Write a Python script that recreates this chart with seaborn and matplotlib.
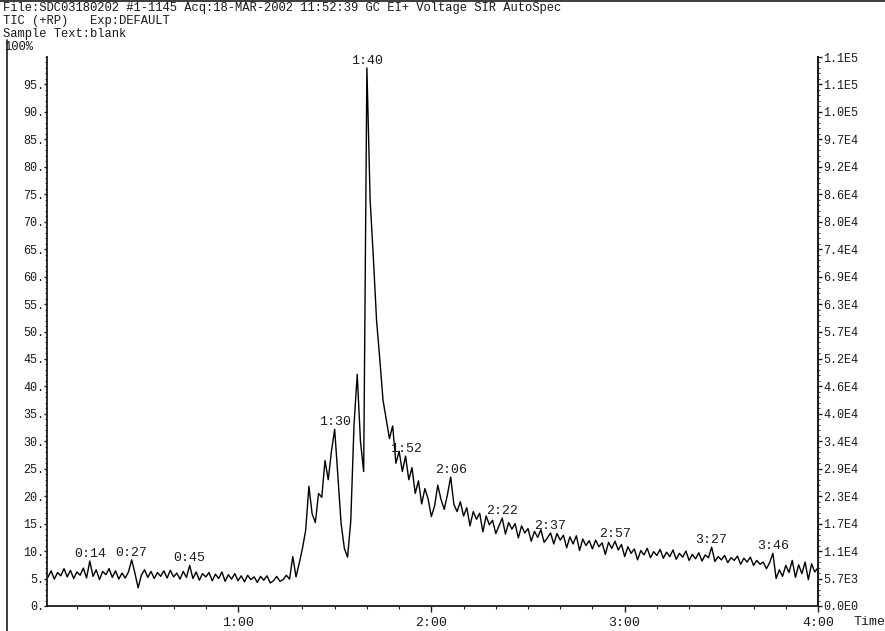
import numpy as np
import pandas as pd
import seaborn as sns
import matplotlib.pyplot as plt
from matplotlib.lines import Line2D
from matplotlib.ticker import MultipleLocator

# scan times in seconds (one scan per second)
seconds = np.arange(1, 241)

# relative intensity (%), second by second
intensity = [
    5.2, 6.4, 4.9, 6.1, 5.5, 6.8, 5.3, 6.5, 5.0, 6.2,
    5.6, 6.9, 5.1, 8.2, 5.4, 6.6, 4.8, 6.3, 5.7, 6.8,
    5.2, 6.4, 4.9, 6.0, 5.1, 6.2, 8.4, 6.0, 3.3, 5.6,
    6.6, 5.2, 6.3, 5.0, 6.1, 5.4, 6.4, 5.1, 6.5, 5.3,
    6.0, 4.9, 6.3, 5.2, 7.4, 5.0, 6.2, 4.7, 5.9, 5.3,
    6.1, 4.6, 5.8, 5.0, 6.2, 4.5, 5.7, 4.9, 5.9, 4.6,
    5.5, 4.4, 5.6, 4.8, 5.3, 4.3, 5.4, 4.7, 5.5, 4.2,
    4.6, 5.4, 4.5, 4.8, 5.6, 4.9, 9.0, 5.3, 7.8, 10.5,
    13.8, 21.8, 16.8, 15.2, 20.5, 19.8, 26.5, 23.0, 28.2, 32.2,
    23.5, 15.0, 10.5, 8.9, 15.5, 33.0, 42.2, 30.0, 24.5, 98.0,
    74.0, 63.5, 52.0, 45.0, 37.5, 34.0, 30.5, 32.8, 26.0, 28.2,
    24.5, 27.3, 23.0, 25.2, 20.5, 22.8, 18.6, 21.4, 19.5, 16.3,
    18.2, 22.0, 19.4, 17.6, 20.3, 23.5, 18.5, 17.2, 19.0, 16.4,
    17.9, 14.6, 17.2, 15.8, 16.9, 13.5, 16.4, 14.8, 15.6, 13.2,
    14.6, 16.0, 13.1, 15.2, 14.0, 15.0, 12.4, 14.6, 13.3, 14.1,
    11.8, 13.6, 12.5, 13.9, 11.6, 12.4, 13.3, 11.3, 13.2, 12.0,
    12.9, 10.6, 12.6, 11.3, 12.8, 10.1, 12.2, 11.0, 11.9, 10.4,
    12.0, 10.8, 11.5, 9.4, 11.6, 10.5, 11.8, 10.2, 11.2, 9.0,
    10.8, 9.6, 10.4, 8.4, 10.1, 9.3, 10.5, 8.8, 9.9, 9.2,
    10.3, 8.7, 9.8, 9.0, 10.2, 8.5, 9.6, 8.9, 10.0, 8.3,
    9.4, 8.6, 9.7, 8.2, 9.3, 8.8, 10.7, 8.1, 9.0, 8.4,
    9.2, 7.9, 8.8, 8.3, 9.1, 7.6, 8.7, 8.0, 8.9, 7.4,
    8.3, 7.6, 8.0, 6.8, 7.9, 9.6, 5.0, 6.6, 5.4, 7.4,
    6.1, 8.3, 5.2, 7.5, 5.9, 8.0, 4.8, 7.7, 6.2, 7.0,
]

# labelled peaks (seconds, label)
peak_secs = [14, 27, 45, 90, 100, 112, 126, 142, 157, 177, 207, 226]
peak_text = ["0:14", "0:27", "0:45", "1:30", "1:40", "1:52", "2:06",
             "2:22", "2:37", "2:57", "3:27", "3:46"]

pct_ticks = list(range(0, 100, 5))
time_ticks = [1, 2, 3, 4]
time_labels = ["1:00", "2:00", "3:00", "4:00"]
count_labels = ["0.0E0", "5.7E3", "1.1E4", "1.7E4", "2.3E4", "2.9E4", "3.4E4",
                "4.0E4", "4.6E4", "5.2E4", "5.7E4", "6.3E4", "6.9E4", "7.4E4",
                "8.0E4", "8.6E4", "9.2E4", "9.7E4", "1.0E5", "1.1E5", "1.1E5"]

header = ["File:SDC03180202 #1-1145 Acq:18-MAR-2002 11:52:39 GC EI+ Voltage SIR AutoSpec",
          "TIC (+RP)   Exp:DEFAULT",
          "Sample Text:blank"]

df = pd.DataFrame({"time": seconds / 60.0, "pct": intensity})

sns.set_theme(style="ticks")
plt.rcParams["font.family"] = ["Liberation Mono", "DejaVu Sans Mono"]
ink = "#1a1a1a"

W, H = 885, 631
fig = plt.figure(figsize=(W / 100, H / 100), dpi=100)
ax = fig.add_axes([47 / W, 1 - 606 / H, (818 - 47) / W, (606 - 57) / H])

sns.lineplot(data=df, x="time", y="pct", ax=ax, color="black",
             linewidth=1.0, estimator=None)

ax.set_xlim(0.012, 4.0)
ax.set_ylim(0, 100)
ax.set_xlabel("")
ax.set_ylabel("")
ax.spines["top"].set_visible(False)
for s in ("left", "bottom", "right"):
    ax.spines[s].set_color(ink)
    ax.spines[s].set_linewidth(1.3)

ax.set_xticks(time_ticks)
ax.set_xticklabels(time_labels)
ax.xaxis.set_minor_locator(MultipleLocator(1 / 6))
ax.set_yticks(pct_ticks)
ax.set_yticklabels([str(v) + "." for v in pct_ticks])
ax.yaxis.set_minor_locator(MultipleLocator(1))
ax.tick_params(axis="x", which="major", length=4, width=1, pad=4,
               labelsize=9.5, colors=ink)
ax.tick_params(axis="x", which="minor", length=2.5, width=0.8, colors=ink)
ax.tick_params(axis="y", which="major", length=2, width=1, pad=0,
               labelsize=8.5, colors=ink)
ax.tick_params(axis="y", which="minor", length=1.5, width=0.6, colors=ink)

ax2 = ax.twinx()
ax2.set_ylim(0, 100)
ax2.set_yticks(list(range(0, 101, 5)))
ax2.set_yticklabels(count_labels)
ax2.yaxis.set_minor_locator(MultipleLocator(1))
ax2.tick_params(axis="y", which="major", length=3, width=1, pad=1,
                labelsize=8.5, colors=ink)
ax2.tick_params(axis="y", which="minor", length=1.5, width=0.6, colors=ink)
for s in ("top", "left", "bottom"):
    ax2.spines[s].set_visible(False)
ax2.spines["right"].set_color(ink)
ax2.spines["right"].set_linewidth(1.3)

lookup = dict(zip(seconds, intensity))
for sec, txt in zip(peak_secs, peak_text):
    ax.annotate(txt, xy=(sec / 60.0, lookup[sec]), xytext=(0, 5),
                textcoords="offset points", ha="center", va="center",
                fontsize=9.5, color=ink)

for i, line in enumerate(header):
    fig.text(3 / W, 1 - (8 + 13 * i) / H, line, fontsize=8.7, color=ink,
             ha="left", va="center")
fig.text(4 / W, 1 - 47 / H, "100%", fontsize=8.7, color=ink, ha="left", va="center")
fig.text(853 / W, 1 - 622 / H, "Time", fontsize=9.5, color=ink, ha="left", va="center")

fig.add_artist(Line2D([7 / W, 7 / W], [0, 1 - 40 / H], color=ink, lw=1.2))
fig.add_artist(Line2D([0, 1], [1 - 1 / H, 1 - 1 / H], color=ink, lw=1.2))

fig.savefig("out.png", dpi=100, facecolor="white")
